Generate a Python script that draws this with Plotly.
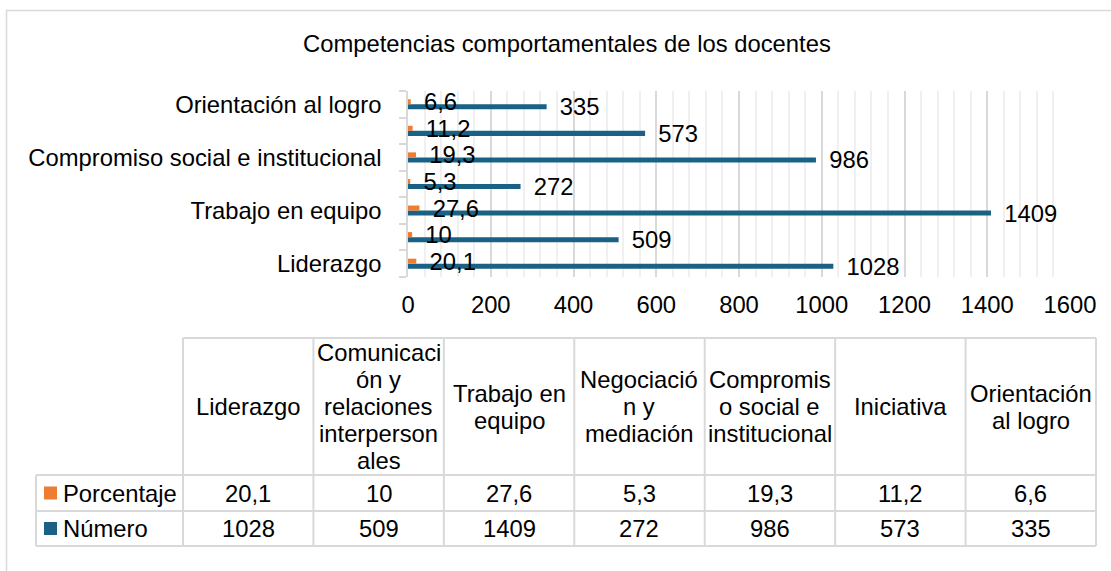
import plotly.graph_objects as go

# ---------------- data ----------------
categories = [
    "Liderazgo",
    "Comunicación y relaciones interpersonales",
    "Trabajo en equipo",
    "Negociación y mediación",
    "Compromiso social e institucional",
    "Iniciativa",
    "Orientación al logro",
]
porcentaje = [20.1, 10, 27.6, 5.3, 19.3, 11.2, 6.6]
numero = [1028, 509, 1409, 272, 986, 573, 335]
series_names = ["Porcentaje", "Número"]
header_lines = [
    ["Liderazgo"],
    ["Comunicaci", "ón y", "relaciones", "interperson", "ales"],
    ["Trabajo en", "equipo"],
    ["Negociació", "n y", "mediación"],
    ["Compromis", "o social e", "institucional"],
    ["Iniciativa"],
    ["Orientación", "al logro"],
]
x_ticks = [0, 200, 400, 600, 800, 1000, 1200, 1400, 1600]
title = "Competencias comportamentales de los docentes"

# ---------------- style ----------------
W, H = 1111, 571
FONT = "Liberation Sans, Arial, sans-serif"
FS = 23.8
TXT = "#000000"
ORANGE = "#ED7D31"
BLUE = "#1A6186"
GRID = "#D9D9D9"
MINOR = "#F0F0F0"


def px(x):
    return x / W


def py(y):
    return 1 - y / H


def fmt(v):
    return f"{v:g}".replace(".", ",")


fig = go.Figure()
fig.add_trace(go.Bar(
    y=categories, x=numero, orientation="h", name=series_names[1],
    marker=dict(color=BLUE, line=dict(width=0)),
    text=["\u00a0\u00a0" + fmt(v) for v in numero],
    textposition="outside", constraintext="none", cliponaxis=False,
    textfont=dict(family=FONT, size=FS, color=TXT), showlegend=False,
    hoverinfo="x+y",
))
fig.add_trace(go.Bar(
    y=categories, x=porcentaje, orientation="h", name=series_names[0],
    marker=dict(color=ORANGE, line=dict(width=0)),
    text=["\u00a0\u00a0" + fmt(v) for v in porcentaje],
    textposition="outside", constraintext="none", cliponaxis=False,
    textfont=dict(family=FONT, size=FS, color=TXT), showlegend=False,
    hoverinfo="x+y",
))

plot_l, plot_r, plot_t, plot_b = 408, 1070, 91, 277

fig.update_layout(
    width=W, height=H,
    margin=dict(l=0, r=0, t=0, b=0, pad=0, autoexpand=False),
    paper_bgcolor="white", plot_bgcolor="white",
    barmode="group", bargap=0.62, bargroupgap=0,
    font=dict(family=FONT, size=FS, color=TXT),
    xaxis=dict(
        domain=[px(plot_l), px(plot_r)], range=[0, 1600], automargin=False,
        tickvals=x_ticks, ticktext=[str(t) for t in x_ticks],
        showgrid=True, gridcolor=GRID, gridwidth=1.5,
        minor=dict(dtick=40, showgrid=True, gridcolor=MINOR, gridwidth=1.5),
        zeroline=False, showline=False,
        ticks="outside", ticklen=6, tickcolor="rgba(0,0,0,0)",
        tickfont=dict(family=FONT, size=FS, color=TXT),
        fixedrange=True,
    ),
    yaxis=dict(
        domain=[py(plot_b), py(plot_t)], automargin=False,
        type="category", categoryorder="array", categoryarray=categories,
        tickvals=categories,
        ticktext=[c if i % 2 == 0 else "" for i, c in enumerate(categories)],
        tickson="boundaries", ticks="outside", ticklen=7, tickcolor=GRID, tickwidth=1.5,
        showline=True, linecolor=GRID, linewidth=1.5,
        showgrid=False, zeroline=False,
        ticklabelstandoff=20,
        tickfont=dict(family=FONT, size=FS, color=TXT),
        fixedrange=True,
    ),
)

shapes = []
annotations = []

# outer chart border (cut by canvas on right/bottom)
shapes.append(dict(type="rect", xref="paper", yref="paper",
                   x0=px(6.5), x1=px(1130), y0=py(590), y1=py(10.5),
                   line=dict(color=GRID, width=1.5), fillcolor="rgba(0,0,0,0)", layer="below"))

# title
annotations.append(dict(text=title, xref="paper", yref="paper", x=px(567), y=py(44),
                        xanchor="center", yanchor="middle", showarrow=False,
                        font=dict(family=FONT, size=FS, color=TXT)))

# ---------------- data table ----------------
tl, tleft, t_top, t_head, t_r1, t_r2 = 183, 36, 338, 475, 511, 546
t_right = 1096
n = len(categories)
colw = (t_right - tl) / n


def hline(y, x0, x1):
    shapes.append(dict(type="line", xref="paper", yref="paper",
                       x0=px(x0), x1=px(x1), y0=py(y), y1=py(y),
                       line=dict(color=GRID, width=2)))


def vline(x, y0, y1):
    shapes.append(dict(type="line", xref="paper", yref="paper",
                       x0=px(x), x1=px(x), y0=py(y0), y1=py(y1),
                       line=dict(color=GRID, width=2)))


hline(t_top, tl, t_right)
for y in (t_head, t_r1, t_r2):
    hline(y, tleft, t_right)
vline(tleft, t_head, t_r2)
for i in range(n + 1):
    vline(tl + i * colw, t_top, t_r2)

head_c = (t_top + t_head) / 2
LS = 27
for i, lines in enumerate(header_lines):
    cx = tl + (i + 0.5) * colw
    k = len(lines)
    for j, ln in enumerate(lines):
        cy = head_c + (j - (k - 1) / 2) * LS
        annotations.append(dict(text=ln, xref="paper", yref="paper", x=px(cx), y=py(cy),
                                xanchor="center", yanchor="middle", showarrow=False,
                                font=dict(family=FONT, size=FS, color=TXT)))

rows = [(series_names[0], porcentaje, ORANGE, (t_head + t_r1) / 2),
        (series_names[1], numero, BLUE, (t_r1 + t_r2) / 2)]
for name, vals, col, cy in rows:
    shapes.append(dict(type="rect", xref="paper", yref="paper",
                       x0=px(44), x1=px(57), y0=py(cy + 6.5), y1=py(cy - 6.5),
                       line=dict(width=0), fillcolor=col))
    annotations.append(dict(text=name, xref="paper", yref="paper", x=px(61), y=py(cy),
                            xanchor="left", yanchor="middle", showarrow=False,
                            font=dict(family=FONT, size=FS, color=TXT)))
    for i, v in enumerate(vals):
        cx = tl + (i + 0.5) * colw
        annotations.append(dict(text=fmt(v), xref="paper", yref="paper", x=px(cx), y=py(cy),
                                xanchor="center", yanchor="middle", showarrow=False,
                                font=dict(family=FONT, size=FS, color=TXT)))

fig.update_layout(shapes=shapes, annotations=annotations)
fig.write_html(
    "out.html",
    config={"displayModeBar": False},
    post_script="document.body.style.margin='0px';document.body.style.overflow='hidden';",
)
